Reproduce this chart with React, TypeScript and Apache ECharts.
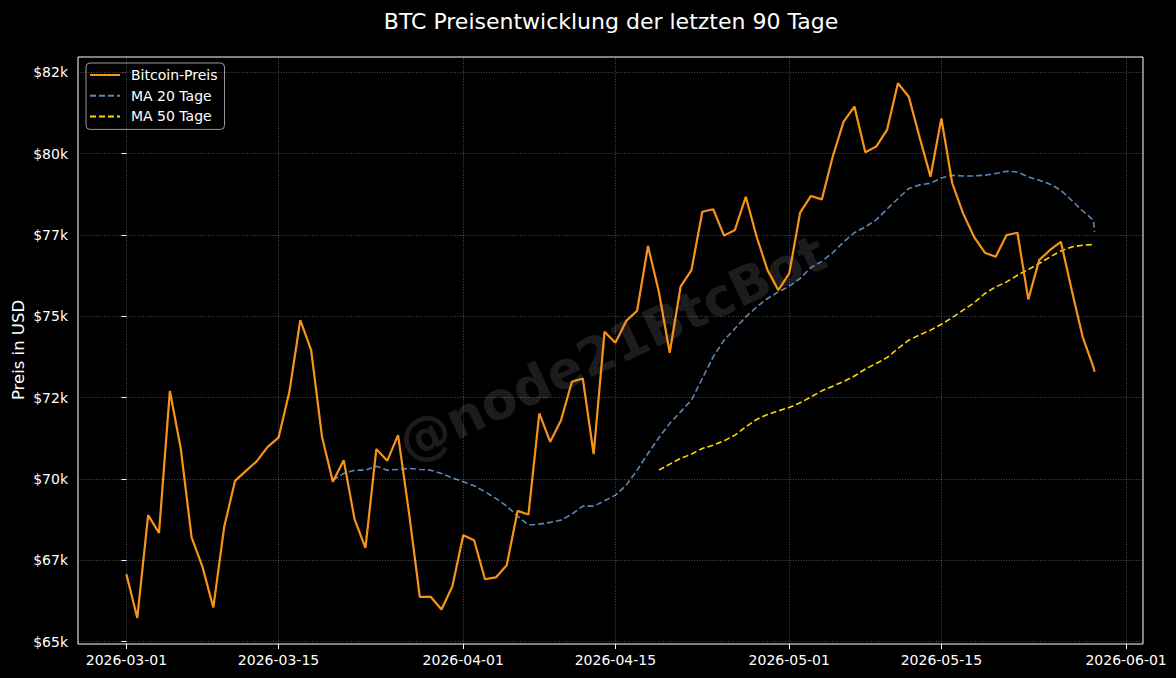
import React, { useEffect, useRef } from "react";
import * as echarts from "echarts";

// Day offsets from 2026-03-01 (daily points plus the latest intraday point)
const START_UTC = Date.UTC(2026, 2, 1);
const DAY_OFFSETS: number[] = [...Array.from({ length: 90 }, (_, i) => i), 89.1];

const PRICE: number[] = [
  67075, 65730, 68890, 68345, 72710, 70940, 68205, 67300, 66050, 68530,
  69945, 70250, 70550, 70990, 71270, 72680, 74885, 73965, 71300, 69915,
  70580, 68760, 67885, 70920, 70560, 71350, 68980, 66380, 66380, 65990,
  66705, 68275, 68120, 66920, 66975, 67350, 69020, 68910, 72015, 71145,
  71810, 72990, 73090, 70765, 74525, 74190, 74860, 75170, 77160, 75755,
  73880, 75910, 76420, 78215, 78290, 77480, 77655, 78675, 77445, 76420,
  75805, 76320, 78185, 78700, 78595, 79905, 80985, 81445, 80040, 80215,
  80730, 82165, 81750, 80500, 79290, 81085, 79090, 78165, 77445, 76955,
  76830, 77500, 77570, 75520, 76730, 77040, 77290, 75805, 74370, 73430,
  73300,
];

const MA20_START = 19;
const MA20: number[] = [
  69966, 70172, 70273, 70273, 70396, 70273, 70295, 70326, 70295, 70273,
  70172, 70037, 69914, 69791, 69607, 69404, 69167, 68860, 68584, 68614,
  68667, 68737, 68922, 69167, 69167, 69330, 69505, 69812, 70273, 70786,
  71270, 71708, 72064, 72424, 73091, 73754, 74267, 74626, 74983, 75290,
  75548, 75751, 75926, 76163, 76501, 76690, 76955, 77290, 77570, 77748,
  77965, 78298, 78620, 78927, 79040, 79090, 79250, 79336, 79315, 79315,
  79336, 79388, 79459, 79438, 79284, 79183, 79060, 78876, 78560, 78240,
  77954, 77595,
];

const MA50_START = 49;
const MA50: number[] = [
  70273, 70458, 70633, 70765, 70940, 71041, 71174, 71349, 71604, 71831,
  71985, 72095, 72200, 72341, 72525, 72710, 72854, 73000, 73165, 73380,
  73551, 73730, 74010, 74267, 74430, 74575, 74755, 74964, 75189, 75413,
  75702, 75905, 76058, 76264, 76440, 76624, 76826, 77011, 77134, 77186,
  77207, 77215,
];

const X_TICKS: number[] = [0, 14, 31, 45, 61, 75, 92];
const X_TICK_LABELS: string[] = [
  "2026-03-01", "2026-03-15", "2026-04-01", "2026-04-15",
  "2026-05-01", "2026-05-15", "2026-06-01",
];
const Y_TICKS: number[] = [65000, 67500, 70000, 72500, 75000, 77500, 80000, 82500];
const Y_TICK_LABELS: string[] = ["$65k", "$67k", "$70k", "$72k", "$75k", "$77k", "$80k", "$82k"];

const FONT = "DejaVu Sans";

export default function App() {
  const ref = useRef<HTMLDivElement>(null);

  useEffect(() => {
    document.body.style.margin = "0";
    document.body.style.background = "#000";
    if (!ref.current) return;
    const chart = echarts.init(ref.current, undefined, { renderer: "svg" });

    const priceData = PRICE.map((v, i) => [DAY_OFFSETS[i], v]);
    const ma20Data = MA20.map((v, i) => [DAY_OFFSETS[MA20_START + i], v]);
    const ma50Data = MA50.map((v, i) => [DAY_OFFSETS[MA50_START + i], v]);

    const xLabel = (v: number) => {
      const idx = X_TICKS.indexOf(Math.round(v));
      return idx >= 0 ? X_TICK_LABELS[idx] : "";
    };
    const yLabel = (v: number) => {
      const idx = Y_TICKS.indexOf(Math.round(v));
      return idx >= 0 ? Y_TICK_LABELS[idx] : "";
    };

    const option: any = {
      animation: false,
      backgroundColor: "#000",
      textStyle: { fontFamily: FONT },
      grid: {
        left: 78,
        right: 33,
        top: 57,
        bottom: 34,
        show: true,
        borderColor: "#ffffff",
        borderWidth: 1,
        backgroundColor: "transparent",
        containLabel: false,
      },
      legend: {
        data: ["Bitcoin-Preis", "MA 20 Tage", "MA 50 Tage"],
        orient: "vertical",
        left: 86,
        top: 63,
        itemWidth: 30,
        itemHeight: 14,
        itemGap: 6.7,
        padding: [5, 7, 6, 3],
        backgroundColor: "rgba(0,0,0,0.85)",
        borderColor: "#9a9a9a",
        borderWidth: 1,
        borderRadius: 4,
        itemStyle: { opacity: 0, borderWidth: 0 },
        textStyle: { color: "#ffffff", fontSize: 14, fontFamily: FONT, padding: [0, 0, 0, 6] },
        selectedMode: false,
      },
      xAxis: {
        type: "value",
        min: -4.455,
        max: 93.555,
        axisLine: { show: false },
        axisTick: {
          show: true,
          customValues: X_TICKS,
          length: 5,
          lineStyle: { color: "#ffffff", width: 1 },
        },
        axisLabel: {
          customValues: X_TICKS,
          formatter: xLabel,
          color: "#ffffff",
          fontSize: 14,
          fontFamily: FONT,
          margin: 9,
        },
        splitLine: { show: false },
      },
      yAxis: {
        type: "value",
        min: 64930,
        max: 82970,
        axisLine: { show: false },
        axisTick: {
          show: true,
          customValues: Y_TICKS,
          length: 5,
          lineStyle: { color: "#ffffff", width: 1 },
        },
        axisLabel: {
          customValues: Y_TICKS,
          formatter: yLabel,
          color: "#ffffff",
          fontSize: 14,
          fontFamily: FONT,
          margin: 10,
        },
        splitLine: { show: false },
      },
      graphic: [
        {
          type: "text",
          x: 612,
          y: 348,
          rotation: (25 * Math.PI) / 180,
          z: -1,
          silent: true,
          style: {
            text: "@node21BtcBot",
            fontSize: 52,
            fontWeight: "bold",
            fontFamily: FONT,
            fill: "#1c1c1c",
            align: "center",
            verticalAlign: "middle",
          },
        },
        {
          type: "text",
          x: 611,
          y: 21,
          silent: true,
          style: {
            text: "BTC Preisentwicklung der letzten 90 Tage",
            fontSize: 22,
            fontFamily: FONT,
            fill: "#ffffff",
            align: "center",
            verticalAlign: "middle",
          },
        },
        {
          type: "text",
          x: 18,
          y: 350,
          rotation: Math.PI / 2,
          silent: true,
          style: {
            text: "Preis in USD",
            fontSize: 16.5,
            fontFamily: FONT,
            fill: "#ffffff",
            align: "center",
            verticalAlign: "middle",
          },
        },
      ],
      series: [
        {
          type: "line",
          data: [],
          silent: true,
          z: 1,
          markLine: {
            silent: true,
            symbol: ["none", "none"],
            label: { show: false },
            lineStyle: { color: "rgba(255,255,255,0.38)", width: 0.8, type: [1, 1.6] },
            emphasis: { disabled: true },
            data: [
              ...X_TICKS.map((x) => ({ xAxis: x })),
              ...Y_TICKS.map((y) => ({ yAxis: y })),
            ],
          },
        },
        {
          name: "Bitcoin-Preis",
          type: "line",
          data: priceData,
          showSymbol: false,
          symbol: "none",
          z: 4,
          lineStyle: { color: "#F7931A", width: 2.2 },
          itemStyle: { color: "#F7931A" },
        },
        {
          name: "MA 20 Tage",
          type: "line",
          data: ma20Data,
          showSymbol: false,
          symbol: "none",
          z: 3,
          lineStyle: { color: "#5b87b8", width: 1.6, type: [6, 3] },
          itemStyle: { color: "#5b87b8" },
        },
        {
          name: "MA 50 Tage",
          type: "line",
          data: ma50Data,
          showSymbol: false,
          symbol: "none",
          z: 3,
          lineStyle: { color: "#FFD700", width: 1.6, type: [6, 3] },
          itemStyle: { color: "#FFD700" },
        },
      ],
    };

    chart.setOption(option);
    return () => chart.dispose();
  }, []);

  return <div ref={ref} style={{ width: 1176, height: 678 }} />;
}
